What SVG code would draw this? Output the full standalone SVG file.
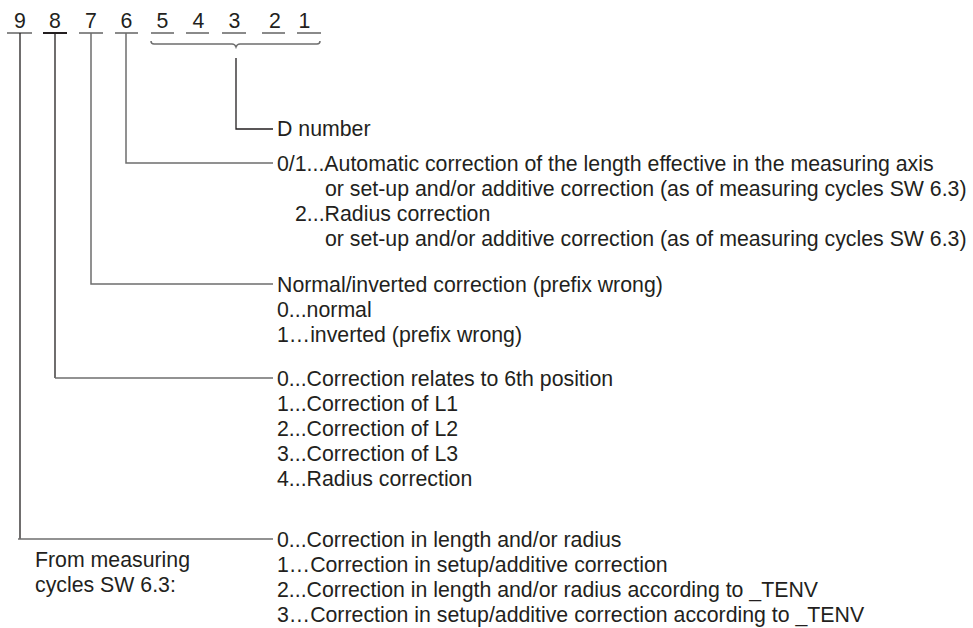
<svg xmlns="http://www.w3.org/2000/svg" width="973" height="628" viewBox="0 0 973 628">
<style>
text{font-family:"Liberation Sans",Arial,sans-serif;font-size:21.3px;fill:#231f20}
.dig{text-anchor:middle}
.ul{stroke:#8a8a8a;stroke-width:2;fill:none}
.ulk{stroke:#231f20;stroke-width:2;fill:none}
.ln{stroke:#231f20;stroke-width:1.3;fill:none}
.lg{stroke:#6e6e6e;stroke-width:1.5;fill:none}
</style>
<rect width="973" height="628" fill="#ffffff"/>
<g id="digits">
<text class="dig" x="20" y="28">9</text>
<text class="dig" x="55" y="28">8</text>
<text class="dig" x="91" y="28">7</text>
<text class="dig" x="126.5" y="28">6</text>
<text class="dig" x="162.5" y="28">5</text>
<text class="dig" x="198.5" y="28">4</text>
<text class="dig" x="234.5" y="28">3</text>
<text class="dig" x="275" y="28">2</text>
<text class="dig" x="304.5" y="28">1</text>
<path class="ul" d="M7,33H32"/>
<path class="ulk" d="M43,33H67"/>
<path class="ul" d="M79,33H103M115,33H138M151,33H174M186,33H209M222,33H246M262,33H285M297,33H321"/>
<path class="lg" stroke-width="1.2" d="M151,41q0,3 3,3H232q3,0 4,3q1,-3 4,-3H317q3,0 3,-3"/>
</g>
<g id="connectors">
<path class="ln" d="M236,58V129H273"/>
<path class="lg" d="M126,33V163H273"/>
<path class="lg" d="M91,33V284H273"/>
<path class="ln" d="M55,33V378"/>
<path class="lg" d="M55,378H273"/>
<path class="ln" d="M20,33V539"/>
<path class="lg" d="M18,539H273"/>
</g>
<g id="node-d-number">
<text x="277" y="136">D number</text>
</g>
<g id="node-pos6">
<text x="277" y="171">0/1...Automatic correction of the length effective in the measuring axis</text>
<text x="325" y="196">or set-up and/or additive correction (as of measuring cycles SW 6.3)</text>
<text x="295" y="221">2...Radius correction</text>
<text x="325" y="246">or set-up and/or additive correction (as of measuring cycles SW 6.3)</text>
</g>
<g id="node-pos7">
<text x="277" y="292">Normal/inverted correction (prefix wrong)</text>
<text x="277" y="317">0...normal</text>
<text x="277" y="342">1…inverted (prefix wrong)</text>
</g>
<g id="node-pos8">
<text x="277" y="386">0...Correction relates to 6th position</text>
<text x="277" y="411">1...Correction of L1</text>
<text x="277" y="436">2...Correction of L2</text>
<text x="277" y="461">3...Correction of L3</text>
<text x="277" y="486">4...Radius correction</text>
</g>
<g id="node-pos9">
<text x="277" y="547">0...Correction in length and/or radius</text>
<text x="277" y="572">1…Correction in setup/additive correction</text>
<text x="277" y="597">2...Correction in length and/or radius according to _TENV</text>
<text x="277" y="622">3…Correction in setup/additive correction according to _TENV</text>
<text x="35" y="567">From measuring</text>
<text x="35" y="592">cycles SW 6.3:</text>
</g>
</svg>
